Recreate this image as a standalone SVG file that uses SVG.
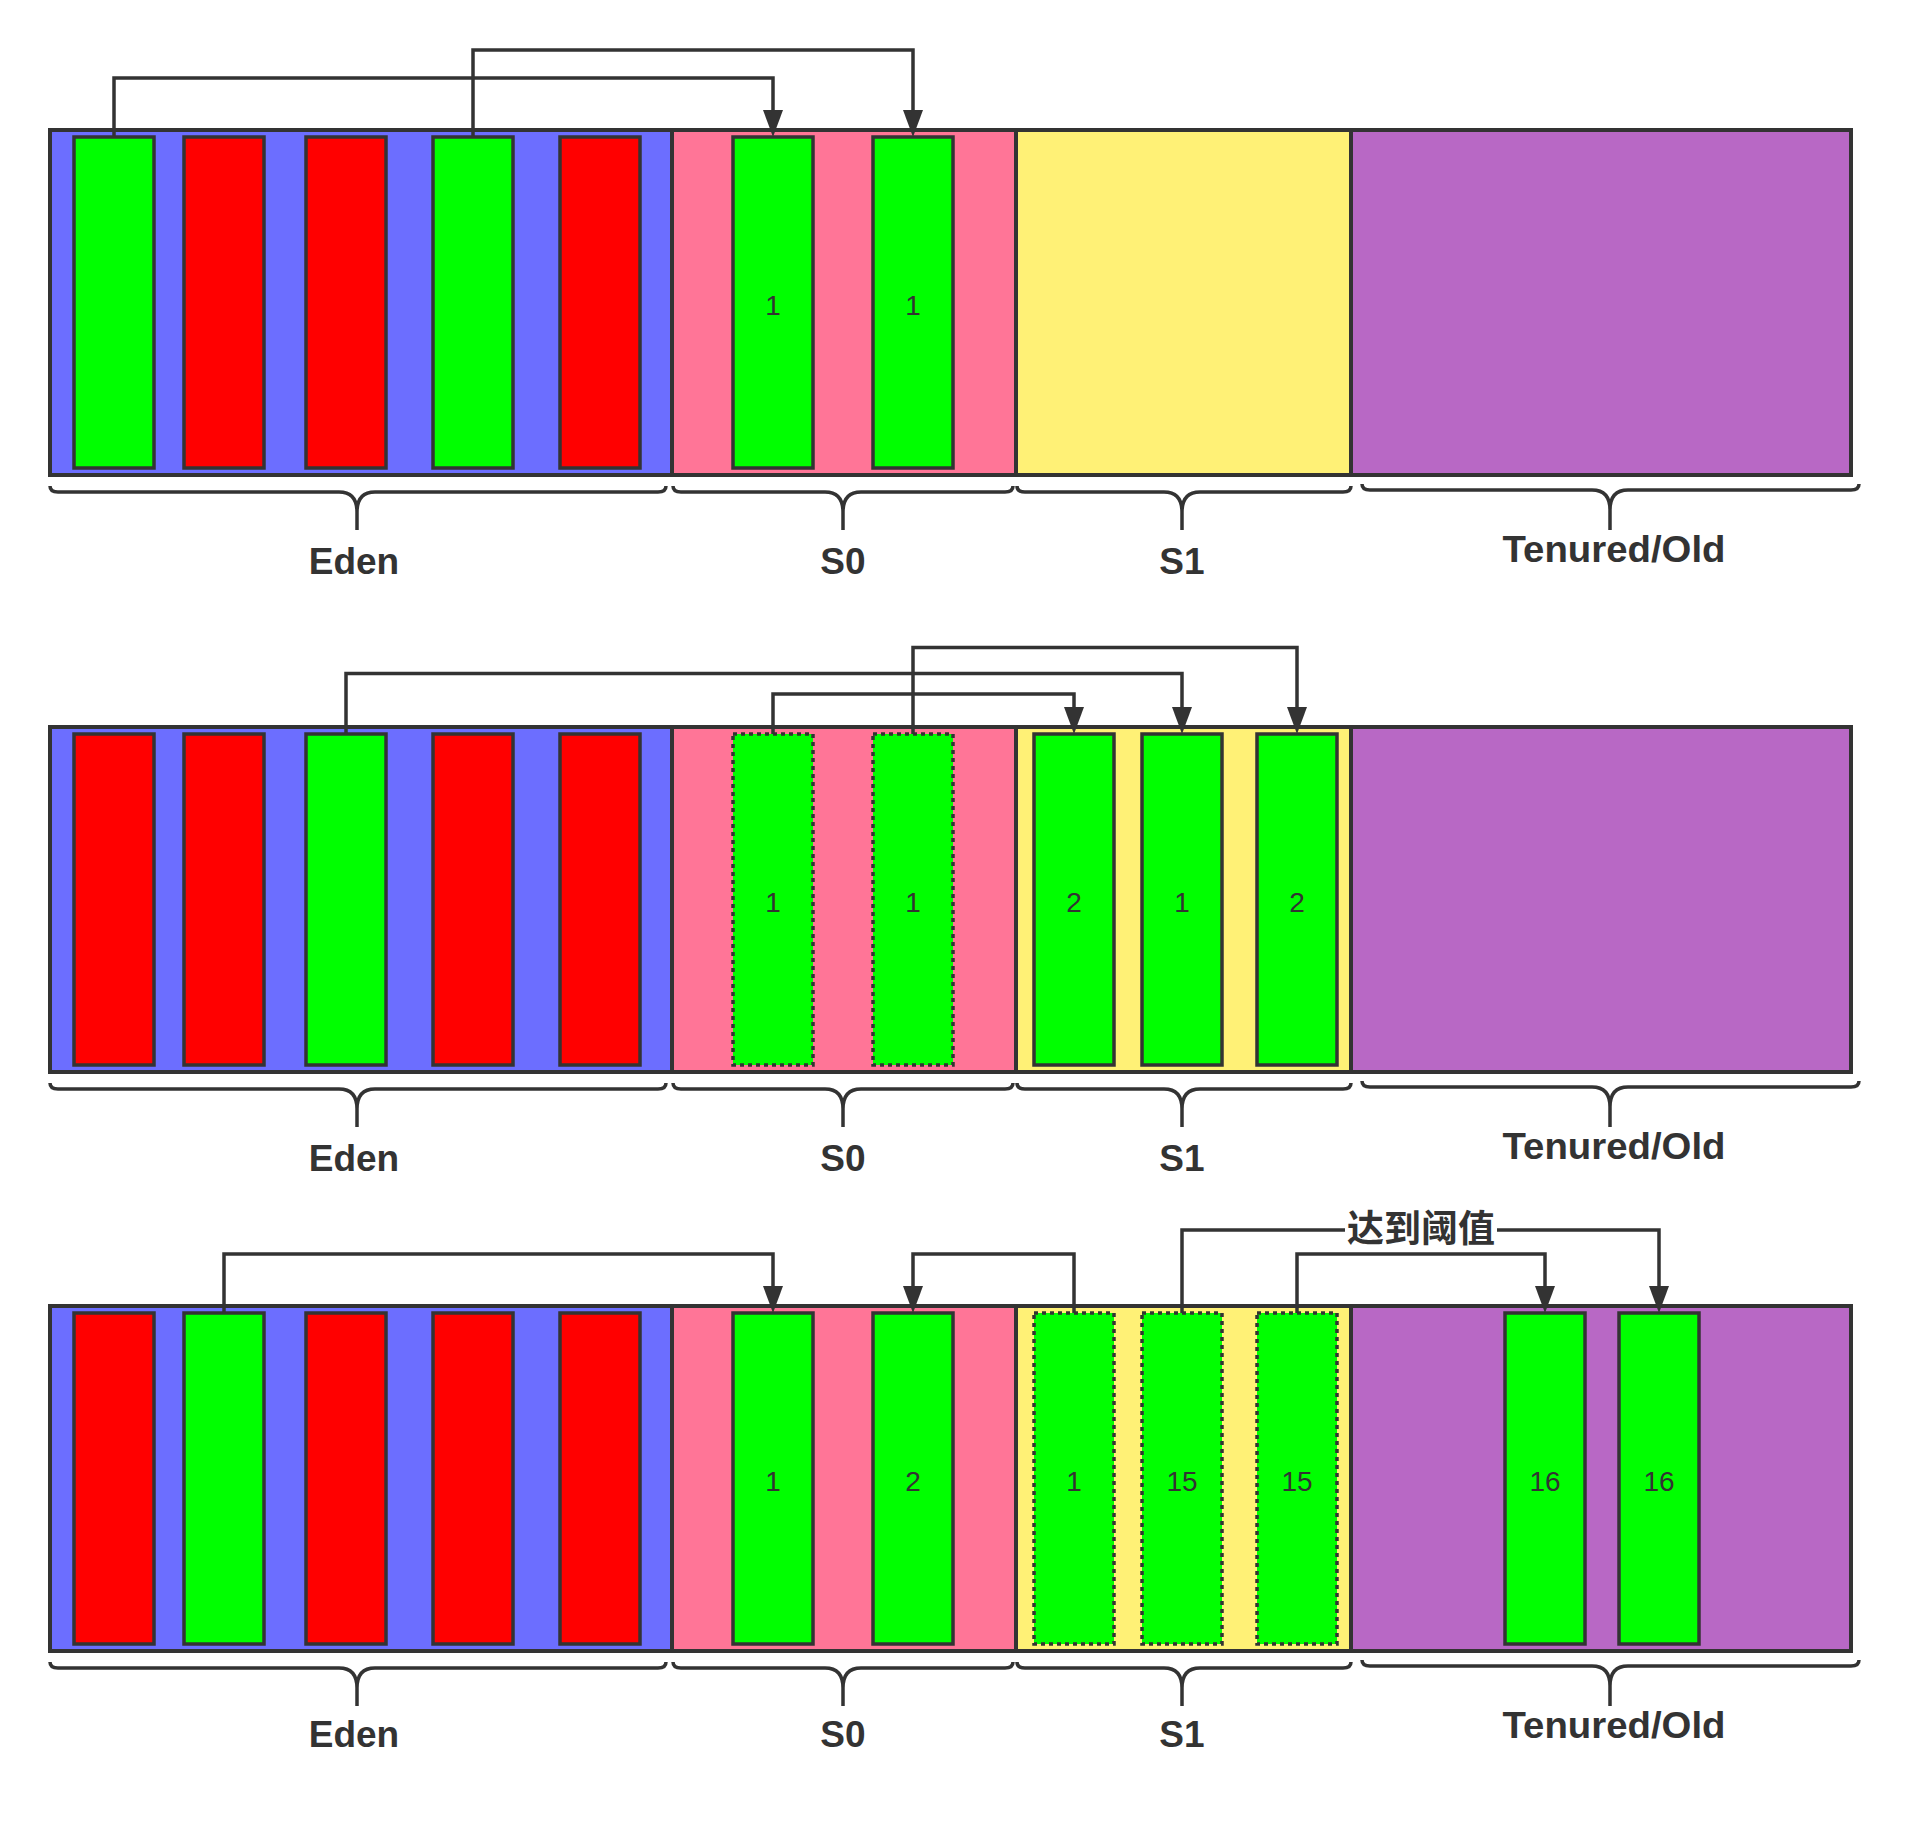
<svg xmlns="http://www.w3.org/2000/svg" width="1907" height="1836" viewBox="0 0 1907 1836">
<defs>
<marker id="arr" markerUnits="userSpaceOnUse" markerWidth="28" markerHeight="21" refX="0" refY="10" orient="auto" viewBox="0 0 28 21">
<path d="M0,0 L27,10 L0,20 Z" fill="#333333"/>
</marker>
</defs>
<style>
.eden{fill:#6C6EFF;stroke:#333333;stroke-width:4}
.s0{fill:#FF7597;stroke:#333333;stroke-width:4}
.s1{fill:#FFF176;stroke:#333333;stroke-width:4}
.old{fill:#B868C5;stroke:#333333;stroke-width:4}
.blk{stroke:#333333;stroke-width:3.5}
.g{fill:#00FF00}
.r{fill:#FF0000}
.dash{stroke-dasharray:4 4}
.num{font-family:'Liberation Sans',Arial,sans-serif;font-size:28px;fill:#333333;text-anchor:middle}
.lbl{font-family:'Liberation Sans',Arial,sans-serif;font-weight:bold;font-size:37px;fill:#333333;text-anchor:middle}
.cjk{font-family:'Noto Sans CJK SC',sans-serif;font-weight:bold;font-size:37px;fill:#333333;text-anchor:middle}
.brace{fill:none;stroke:#333333;stroke-width:3.5}
.conn{fill:none;stroke:#333333;stroke-width:3.5;marker-end:url(#arr)}
</style>
<rect width="1907" height="1836" fill="#FFFFFF"/>

<!-- ROW 1 -->
<g id="row1">
<g id="r1-eden"><rect class="eden" x="50" y="130" width="622" height="345"/></g>
<g id="r1-s0"><rect class="s0" x="672" y="130" width="344" height="345"/></g>
<g id="r1-s1"><rect class="s1" x="1016" y="130" width="335" height="345"/></g>
<g id="r1-old"><rect class="old" x="1351" y="130" width="500" height="345"/></g>
<g id="r1-e1"><rect class="blk g" x="74" y="137" width="80" height="331"/></g>
<g id="r1-e2"><rect class="blk r" x="184" y="137" width="80" height="331"/></g>
<g id="r1-e3"><rect class="blk r" x="306" y="137" width="80" height="331"/></g>
<g id="r1-e4"><rect class="blk g" x="433" y="137" width="80" height="331"/></g>
<g id="r1-e5"><rect class="blk r" x="560" y="137" width="80" height="331"/></g>
<g id="r1-s0a"><rect class="blk g" x="733" y="137" width="80" height="331"/><text class="num" x="773" y="315">1</text></g>
<g id="r1-s0b"><rect class="blk g" x="873" y="137" width="80" height="331"/><text class="num" x="913" y="315">1</text></g>
<g id="r1-connectors">
<path class="conn" d="M114,137 V78 H773 V110"/>
<path class="conn" d="M473,137 V50 H913 V110"/>
</g>
<g id="r1-braces">
<path class="brace" d="M50,486 Q50,492 58,492 H339 Q357,492 357,512 V530 M357,512 Q357,492 375,492 H658 Q666,492 666,486"/>
<path class="brace" d="M673,486 Q673,492 681,492 H825 Q843,492 843,512 V530 M843,512 Q843,492 861,492 H1005 Q1013,492 1013,486"/>
<path class="brace" d="M1017,486 Q1017,492 1025,492 H1164 Q1182,492 1182,512 V530 M1182,512 Q1182,492 1200,492 H1343 Q1351,492 1351,486"/>
<path class="brace" d="M1362,484 Q1362,490 1370,490 H1592 Q1610,490 1610,510 V530 M1610,510 Q1610,490 1628,490 H1851 Q1859,490 1859,484"/>
</g>
<g id="r1-labels">
<text class="lbl" x="354" y="574">Eden</text>
<text class="lbl" x="843" y="574">S0</text>
<text class="lbl" x="1182" y="574">S1</text>
<text class="lbl" x="1614" y="562" textLength="223" lengthAdjust="spacingAndGlyphs">Tenured/Old</text>
</g>
</g>

<!-- ROW 2 -->
<g id="row2" transform="translate(0,597)">
<g id="r2-eden"><rect class="eden" x="50" y="130" width="622" height="345"/></g>
<g id="r2-s0"><rect class="s0" x="672" y="130" width="344" height="345"/></g>
<g id="r2-s1"><rect class="s1" x="1016" y="130" width="335" height="345"/></g>
<g id="r2-old"><rect class="old" x="1351" y="130" width="500" height="345"/></g>
<g id="r2-e1"><rect class="blk r" x="74" y="137" width="80" height="331"/></g>
<g id="r2-e2"><rect class="blk r" x="184" y="137" width="80" height="331"/></g>
<g id="r2-e3"><rect class="blk g" x="306" y="137" width="80" height="331"/></g>
<g id="r2-e4"><rect class="blk r" x="433" y="137" width="80" height="331"/></g>
<g id="r2-e5"><rect class="blk r" x="560" y="137" width="80" height="331"/></g>
<g id="r2-s0a"><rect class="blk g dash" x="733" y="137" width="80" height="331"/><text class="num" x="773" y="315">1</text></g>
<g id="r2-s0b"><rect class="blk g dash" x="873" y="137" width="80" height="331"/><text class="num" x="913" y="315">1</text></g>
<g id="r2-s1a"><rect class="blk g" x="1034" y="137" width="80" height="331"/><text class="num" x="1074" y="315">2</text></g>
<g id="r2-s1b"><rect class="blk g" x="1142" y="137" width="80" height="331"/><text class="num" x="1182" y="315">1</text></g>
<g id="r2-s1c"><rect class="blk g" x="1257" y="137" width="80" height="331"/><text class="num" x="1297" y="315">2</text></g>
<g id="r2-connectors">
<path class="conn" d="M346,137 V76.5 H1182 V110"/>
<path class="conn" d="M773,137 V97 H1074 V110"/>
<path class="conn" d="M913,137 V50.5 H1297 V110"/>
</g>
<g id="r2-braces">
<path class="brace" d="M50,486 Q50,492 58,492 H339 Q357,492 357,512 V530 M357,512 Q357,492 375,492 H658 Q666,492 666,486"/>
<path class="brace" d="M673,486 Q673,492 681,492 H825 Q843,492 843,512 V530 M843,512 Q843,492 861,492 H1005 Q1013,492 1013,486"/>
<path class="brace" d="M1017,486 Q1017,492 1025,492 H1164 Q1182,492 1182,512 V530 M1182,512 Q1182,492 1200,492 H1343 Q1351,492 1351,486"/>
<path class="brace" d="M1362,484 Q1362,490 1370,490 H1592 Q1610,490 1610,510 V530 M1610,510 Q1610,490 1628,490 H1851 Q1859,490 1859,484"/>
</g>
<g id="r2-labels">
<text class="lbl" x="354" y="574">Eden</text>
<text class="lbl" x="843" y="574">S0</text>
<text class="lbl" x="1182" y="574">S1</text>
<text class="lbl" x="1614" y="562" textLength="223" lengthAdjust="spacingAndGlyphs">Tenured/Old</text>
</g>
</g>

<!-- ROW 3 -->
<g id="row3" transform="translate(0,1176)">
<g id="r3-eden"><rect class="eden" x="50" y="130" width="622" height="345"/></g>
<g id="r3-s0"><rect class="s0" x="672" y="130" width="344" height="345"/></g>
<g id="r3-s1"><rect class="s1" x="1016" y="130" width="335" height="345"/></g>
<g id="r3-old"><rect class="old" x="1351" y="130" width="500" height="345"/></g>
<g id="r3-e1"><rect class="blk r" x="74" y="137" width="80" height="331"/></g>
<g id="r3-e2"><rect class="blk g" x="184" y="137" width="80" height="331"/></g>
<g id="r3-e3"><rect class="blk r" x="306" y="137" width="80" height="331"/></g>
<g id="r3-e4"><rect class="blk r" x="433" y="137" width="80" height="331"/></g>
<g id="r3-e5"><rect class="blk r" x="560" y="137" width="80" height="331"/></g>
<g id="r3-s0a"><rect class="blk g" x="733" y="137" width="80" height="331"/><text class="num" x="773" y="315">1</text></g>
<g id="r3-s0b"><rect class="blk g" x="873" y="137" width="80" height="331"/><text class="num" x="913" y="315">2</text></g>
<g id="r3-s1a"><rect class="blk g dash" x="1034" y="137" width="80" height="331"/><text class="num" x="1074" y="315">1</text></g>
<g id="r3-s1b"><rect class="blk g dash" x="1142" y="137" width="80" height="331"/><text class="num" x="1182" y="315">15</text></g>
<g id="r3-s1c"><rect class="blk g dash" x="1257" y="137" width="80" height="331"/><text class="num" x="1297" y="315">15</text></g>
<g id="r3-o1"><rect class="blk g" x="1505" y="137" width="80" height="331"/><text class="num" x="1545" y="315">16</text></g>
<g id="r3-o2"><rect class="blk g" x="1619" y="137" width="80" height="331"/><text class="num" x="1659" y="315">16</text></g>
<g id="r3-connectors">
<path class="conn" d="M224,137 V78 H773 V110"/>
<path class="conn" d="M1074,137 V78 H913 V110"/>
<path class="conn" d="M1182,137 V54 H1659 V110"/>
<path class="conn" d="M1297,137 V78 H1545 V110"/>
</g>
<g id="r3-threshold-label">
<rect x="1345" y="34" width="152" height="41" fill="#FFFFFF"/>
<text class="cjk" x="1421" y="66">达到阈值</text>
</g>
<g id="r3-braces">
<path class="brace" d="M50,486 Q50,492 58,492 H339 Q357,492 357,512 V530 M357,512 Q357,492 375,492 H658 Q666,492 666,486"/>
<path class="brace" d="M673,486 Q673,492 681,492 H825 Q843,492 843,512 V530 M843,512 Q843,492 861,492 H1005 Q1013,492 1013,486"/>
<path class="brace" d="M1017,486 Q1017,492 1025,492 H1164 Q1182,492 1182,512 V530 M1182,512 Q1182,492 1200,492 H1343 Q1351,492 1351,486"/>
<path class="brace" d="M1362,484 Q1362,490 1370,490 H1592 Q1610,490 1610,510 V530 M1610,510 Q1610,490 1628,490 H1851 Q1859,490 1859,484"/>
</g>
<g id="r3-labels">
<text class="lbl" x="354" y="571">Eden</text>
<text class="lbl" x="843" y="571">S0</text>
<text class="lbl" x="1182" y="571">S1</text>
<text class="lbl" x="1614" y="562" textLength="223" lengthAdjust="spacingAndGlyphs">Tenured/Old</text>
</g>
</g>
</svg>
